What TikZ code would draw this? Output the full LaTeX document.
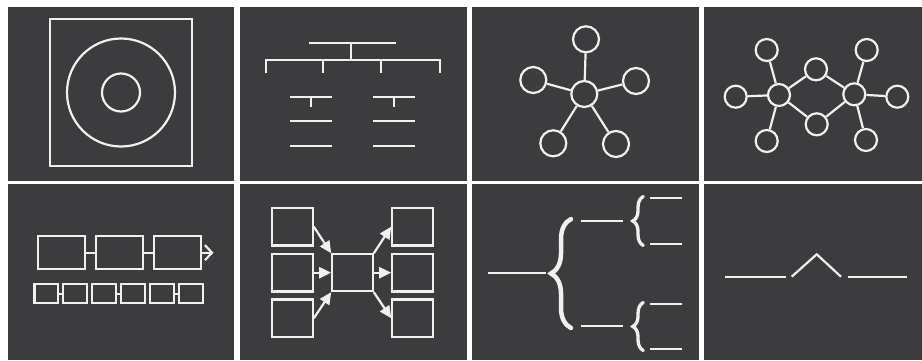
\documentclass[tikz,border=0pt]{standalone}
\usetikzlibrary{arrows.meta,decorations.pathreplacing}
\definecolor{panelbg}{RGB}{60,60,62}
\definecolor{fg}{RGB}{240,240,240}
\begin{document}
\begin{tikzpicture}[x=1pt,y=-1pt,
  ln/.style={draw=fg,line width=2.2pt},
  circ/.style={circle,draw=fg,line width=2.2pt,inner sep=0pt,minimum size=#1},
  circ/.default=26pt,
  box/.style={rectangle,draw=fg,line width=2.2pt,inner sep=0pt,minimum width=#1},
  panel/.style={fill=panelbg},
  arr/.style={ln,-{Triangle[length=12pt,width=11pt]}},
  bigbrace/.style={draw=fg,line width=4.5pt,line cap=round,decorate,decoration={brace,amplitude=#1}}
]
\useasboundingbox (0,0) rectangle (922,361);
\fill[white] (0,0) rectangle (922,361);
% panels
\fill[panel] (8,7) rectangle (234,181);
\fill[panel] (240,7) rectangle (467,181);
\fill[panel] (472,7) rectangle (699,181);
\fill[panel] (704,7) rectangle (922,181);
\fill[panel] (8,184) rectangle (234,360);
\fill[panel] (240,184) rectangle (467,360);
\fill[panel] (472,184) rectangle (699,360);
\fill[panel] (704,184) rectangle (922,360);

% ---------- panel 1: square with concentric circles
\node[box=142pt,minimum height=147pt] (sq) at (121,92.5) {};
\node[circ=108pt] (outer) at (121,92.5) {};
\node[circ=38pt] (inner) at (121,92.5) {};

% ---------- panel 2: org chart
\draw[ln] (309,42.7) -- (396,42.7);
\draw[ln] (351,42.7) -- (351,60);
\draw[ln] (266,73) -- (266,60) -- (440,60) -- (440,73);
\draw[ln] (323,60) -- (323,73);
\draw[ln] (381,60) -- (381,73);
\draw[ln] (290,96.7) -- (332,96.7);
\draw[ln] (311,96.7) -- (311,106.7);
\draw[ln] (290,120.7) -- (332,120.7);
\draw[ln] (290,145.7) -- (332,145.7);
\draw[ln] (373,96.7) -- (415,96.7);
\draw[ln] (394,96.7) -- (394,106.7);
\draw[ln] (373,120.7) -- (415,120.7);
\draw[ln] (373,145.7) -- (415,145.7);

% ---------- panel 3: star network
\node[circ] (hub) at (584.3,94) {};
\node[circ] (st) at (586,39.3) {};
\node[circ] (sl) at (533.3,80) {};
\node[circ] (sr) at (636,81) {};
\node[circ] (sbl) at (553.3,143.3) {};
\node[circ] (sbr) at (616,144) {};
\foreach \n in {st,sl,sr,sbl,sbr} \draw[ln] (hub) -- (\n);

% ---------- panel 4: double hub network
\node[circ=22pt] (hl) at (779,95) {};
\node[circ=22pt] (hr) at (854.3,94.3) {};
\node[circ=22pt] (tm) at (816,69.3) {};
\node[circ=22pt] (bm) at (816.7,124.3) {};
\node[circ=22pt] (fl) at (735.7,96.7) {};
\node[circ=22pt] (fr) at (897.3,96.7) {};
\node[circ=22pt] (tl) at (766.7,50) {};
\node[circ=22pt] (bl) at (766.7,141) {};
\node[circ=22pt] (tr) at (866.7,50) {};
\node[circ=22pt] (br) at (866,140) {};
\foreach \n in {fl,tl,bl,tm,bm} \draw[ln] (hl) -- (\n);
\foreach \n in {fr,tr,br,tm,bm} \draw[ln] (hr) -- (\n);

% ---------- panel 5: process chain
\node[box=47pt,minimum height=33.3pt] (p1) at (61.2,252.7) {};
\node[box=47pt,minimum height=33.3pt] (p2) at (119.5,252.7) {};
\node[box=47pt,minimum height=33.3pt] (p3) at (177.7,252.7) {};
\coordinate (pend) at (213.5,252.7);
\draw[ln] (p1) -- (p2);
\draw[ln] (p2) -- (p3);
\draw[ln,-{Straight Barb[length=7pt,width=15pt]}] (p3) -- (pend);
\node[box=23.8pt,minimum height=19.3pt] (q1) at (46.3,293.7) {};
\node[box=23.8pt,minimum height=19.3pt] (q2) at (75,293.7) {};
\node[box=23.8pt,minimum height=19.3pt] (q3) at (103.7,293.7) {};
\node[box=23.8pt,minimum height=19.3pt] (q4) at (132.7,293.7) {};
\node[box=23.8pt,minimum height=19.3pt] (q5) at (161.7,293.7) {};
\node[box=23.8pt,minimum height=19.3pt] (q6) at (191.2,293.7) {};
\draw[ln] (q1) -- (q2);
\draw[ln] (q3) -- (q4);
\draw[ln] (q5) -- (q6);

% ---------- panel 6: merge / split
\node[box=41pt,minimum height=37.5pt] (l1) at (292.2,226.7) {};
\node[box=41pt,minimum height=37.5pt] (l2) at (292.2,272.7) {};
\node[box=41pt,minimum height=37.5pt] (l3) at (292.2,318.2) {};
\node[box=40.4pt,minimum height=36.7pt] (c) at (352.5,272.7) {};
\node[box=41pt,minimum height=37.5pt] (r1) at (412.8,226.7) {};
\node[box=41pt,minimum height=37.5pt] (r2) at (412.8,272.7) {};
\node[box=41pt,minimum height=37.5pt] (r3) at (412.8,318.2) {};
\draw[arr] (l1.east) -- (c.north west);
\draw[arr] (l2.east) -- (c.west);
\draw[arr] (l3.east) -- (c.south west);
\draw[arr] (c.north east) -- (r1.west);
\draw[arr] (c.east) -- (r2.west);
\draw[arr] (c.south east) -- (r3.west);

% ---------- panel 7: brace tree
\draw[ln] (488.3,273.3) -- (546,273.3);
\draw[bigbrace=20pt] (571,328) -- (571,219);
\draw[ln] (580.7,221) -- (623.3,221);
\draw[ln] (580.7,326) -- (623.3,326);
\draw[bigbrace=10.5pt,line width=3.3pt] (643.3,245.5) -- (643.3,196.5);
\draw[bigbrace=10.5pt,line width=3.3pt] (643.3,350.5) -- (643.3,302.5);
\draw[ln] (650,198.3) -- (682.3,198.3);
\draw[ln] (650,244) -- (682.3,244);
\draw[ln] (650,304) -- (682.3,304);
\draw[ln] (650,349) -- (682.3,349);

% ---------- panel 8: line with chevron
\draw[ln] (725,276.7) -- (786,276.7);
\draw[ln] (791.7,276.7) -- (816.7,254.3) -- (841,276.7);
\draw[ln] (847.7,276.7) -- (907.3,276.7);
\end{tikzpicture}
\end{document}
